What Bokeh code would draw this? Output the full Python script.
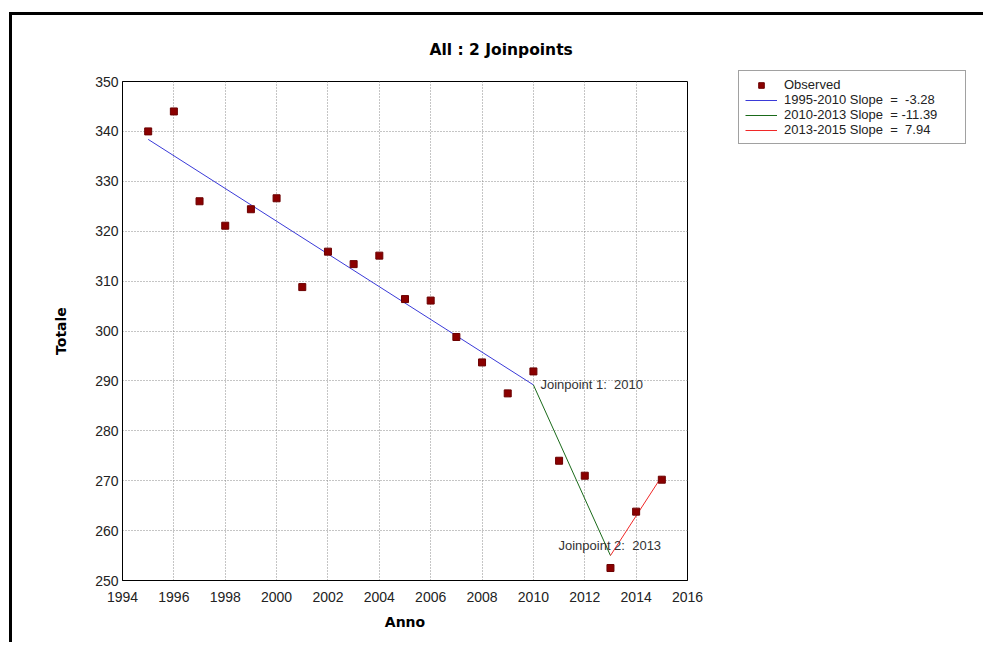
from bokeh.plotting import figure
from bokeh.models import Legend, LegendItem, Label, Title, FixedTicker
from bokeh.embed import file_html
from bokeh.resources import INLINE

# Data
years = [1995, 1996, 1997, 1998, 1999, 2000, 2001, 2002, 2003, 2004, 2005,
         2006, 2007, 2008, 2009, 2010, 2011, 2012, 2013, 2014, 2015]
observed = [340.0, 344.0, 326.0, 321.1, 324.4, 326.6, 308.8, 315.9, 313.4, 315.1, 306.4,
            306.1, 298.8, 293.7, 287.5, 291.9, 274.0, 271.0, 252.5, 263.8, 270.2]

seg1_years = [1995, 2010]
seg1_values = [338.4, 289.2]
seg2_years = [2010, 2013]
seg2_values = [289.2, 255.0]
seg3_years = [2013, 2015]
seg3_values = [255.0, 270.9]

legend_labels = ["Observed", "1995-2010 Slope \u00a0= \u00a0-3.28", "2010-2013 Slope \u00a0= -11.39",
                 "2013-2015 Slope \u00a0= \u00a07.94"]
joinpoint_years = [2010, 2013]
joinpoint_values = [289.2, 255.0]
joinpoint_texts = ["Joinpoint 1: \u00a02010", "Joinpoint 2: \u00a02013"]

x_ticks = [1994, 1996, 1998, 2000, 2002, 2004, 2006, 2008, 2010, 2012, 2014, 2016]
y_ticks = [250, 260, 270, 280, 290, 300, 310, 320, 330, 340, 350]

p = figure(frame_width=565, frame_height=499, x_range=(1994, 2016), y_range=(250, 350),
           output_backend="svg", toolbar_location=None,
           min_border_left=110, min_border_right=280, min_border_top=66, min_border_bottom=62)
p.styles = {"border-top": "3px solid black", "border-left": "3px solid black",
            "margin-top": "12px", "margin-left": "9px"}

p.outline_line_color = "black"
p.outline_line_width = 1
p.outline_line_alpha = 1
p.background_fill_color = "white"
p.border_fill_color = "white"

for ax in (p.xaxis[0], p.yaxis[0]):
    ax.major_tick_in = 0
    ax.major_tick_out = 0
    ax.minor_tick_in = 0
    ax.minor_tick_out = 0
    ax.axis_line_color = "black"
    ax.major_label_text_font = "Liberation Sans"
    ax.major_label_text_font_size = "14px"
    ax.major_label_text_color = "#222222"
    ax.axis_label_text_font = "DejaVu Sans"
    ax.axis_label_text_font_style = "bold"
    ax.axis_label_text_font_size = "14px"
    ax.axis_label_text_color = "black"

p.xaxis.ticker = FixedTicker(ticks=x_ticks)
p.yaxis.ticker = FixedTicker(ticks=y_ticks)
p.xaxis.axis_label = "Anno"
p.yaxis.axis_label = "Totale"
p.xaxis.major_label_standoff = 11
p.xaxis.axis_label_standoff = 9
p.yaxis.major_label_standoff = 4
p.yaxis.axis_label_standoff = 23

p.grid.grid_line_color = "#8a8a8a"
p.grid.grid_line_dash = "1 2"
p.grid.grid_line_width = 1

r1 = p.line(seg1_years, seg1_values, line_color="#3a3ad8", line_width=1)
r2 = p.line(seg2_years, seg2_values, line_color="#1a6a1a", line_width=1)
r3 = p.line(seg3_years, seg3_values, line_color="#f02828", line_width=1)
r0 = p.scatter(years, observed, marker="square", size=7, fill_color="#8b0000",
               line_color="#6b0000")

p.add_layout(Label(x=joinpoint_years[0], y=joinpoint_values[0], text=joinpoint_texts[0],
                   x_offset=7, y_offset=0, text_baseline="middle",
                   text_font="Liberation Sans", text_font_size="13px", text_color="#333333"))
p.add_layout(Label(x=joinpoint_years[1], y=joinpoint_values[1], text=joinpoint_texts[1],
                   x_offset=-52, y_offset=10, text_baseline="middle",
                   text_font="Liberation Sans", text_font_size="13px", text_color="#333333"))

legend = Legend(items=[LegendItem(label=legend_labels[0], renderers=[r0]),
                       LegendItem(label=legend_labels[1], renderers=[r1]),
                       LegendItem(label=legend_labels[2], renderers=[r2]),
                       LegendItem(label=legend_labels[3], renderers=[r3])],
                location=(51, 436))
legend.border_line_color = "#444444"
legend.border_line_width = 1
legend.background_fill_alpha = 1
legend.label_text_font = "Liberation Sans"
legend.label_text_font_size = "13px"
legend.label_text_color = "#222222"
legend.label_height = 14
legend.label_width = 175
legend.glyph_height = 14
legend.glyph_width = 32
legend.label_standoff = 7
legend.spacing = 0
legend.padding = 6
legend.margin = 0
p.add_layout(legend, "right")

title = Title(text="All : 2 Joinpoints", align="left", offset=307,
              text_font="DejaVu Sans", text_font_style="bold", text_font_size="15.5px",
              text_color="black", standoff=45)
p.add_layout(title, "above")

open("out.html", "w").write(file_html(p, INLINE))
